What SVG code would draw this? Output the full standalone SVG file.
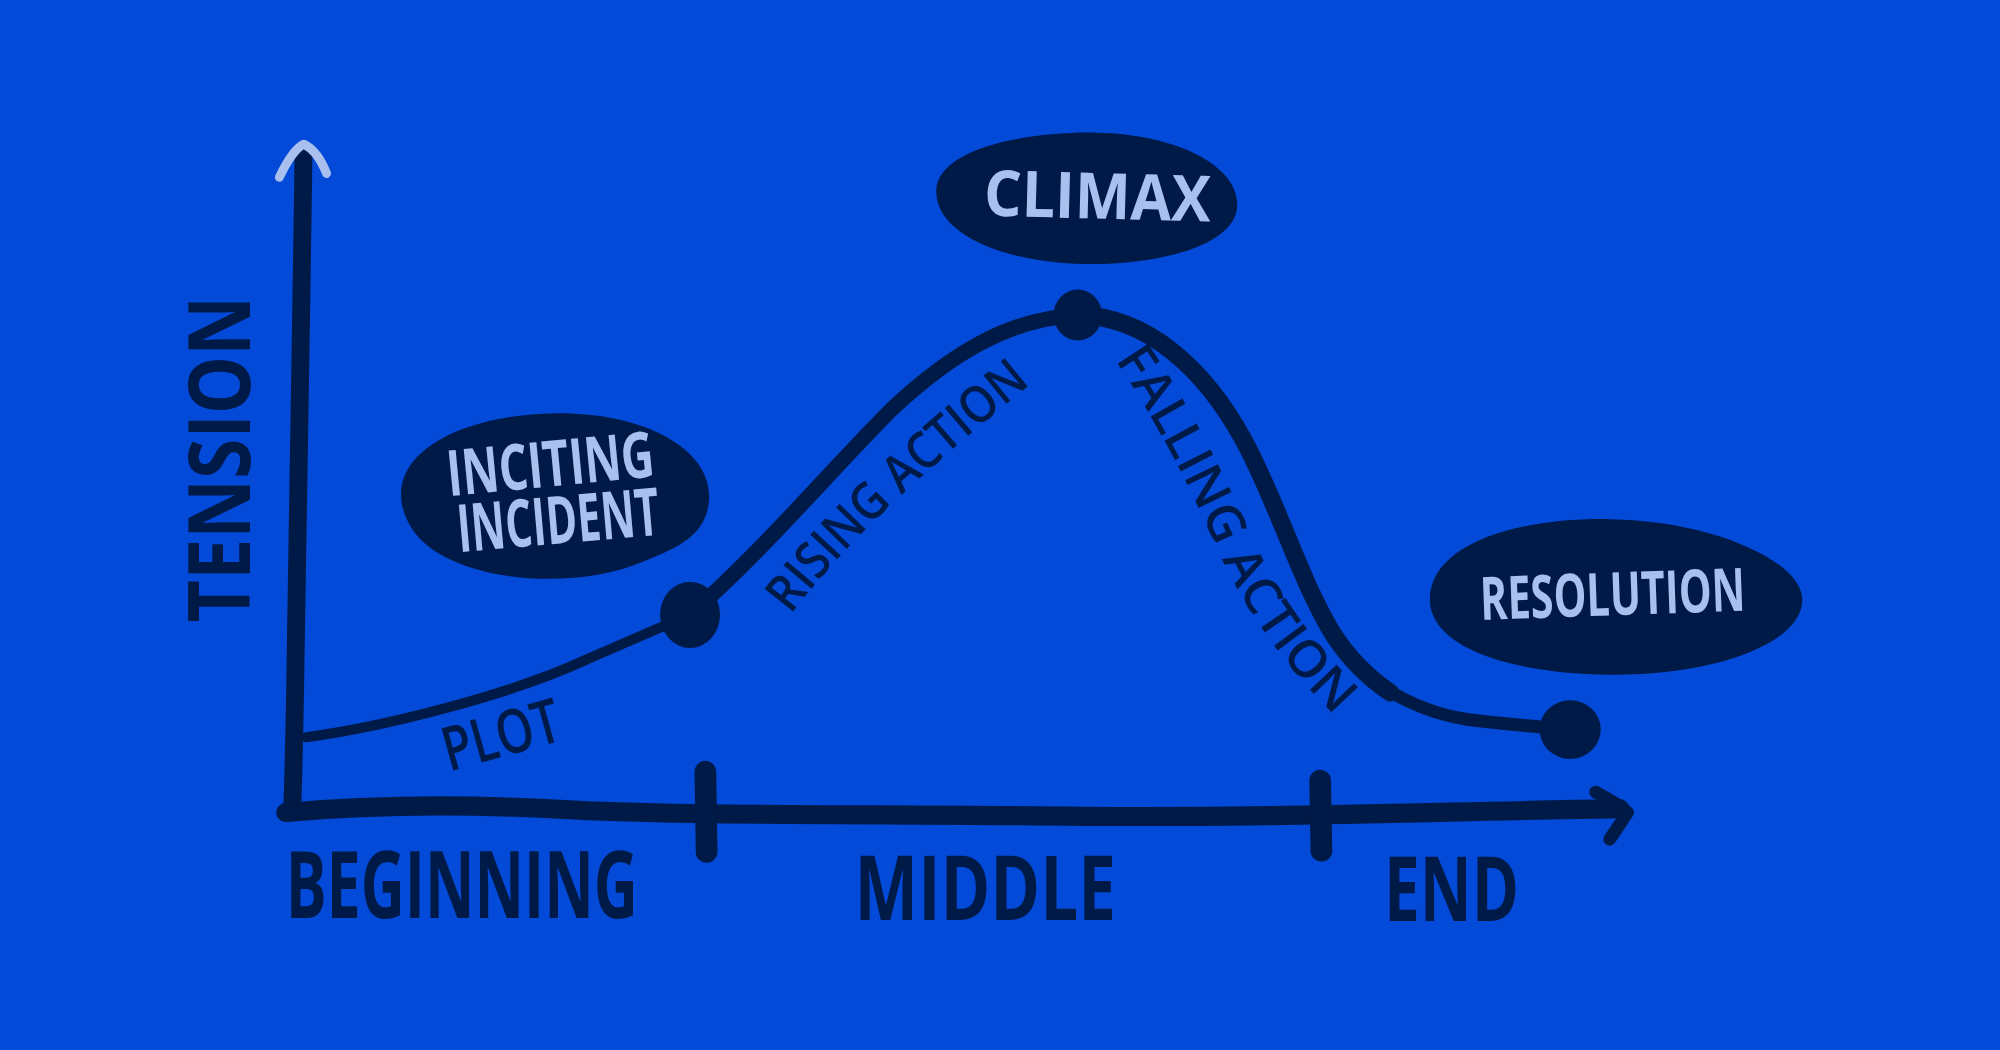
<svg xmlns="http://www.w3.org/2000/svg" width="2000" height="1050" viewBox="0 0 2000 1050">
  <style>
    .bg { fill: #034AD8; }
    .ink { fill: #001A47; }
    .line { fill: none; stroke: #001A47; stroke-linecap: round; stroke-linejoin: round; }
    .dark { fill: #001A47; font-family: "Open Sans", "Liberation Sans", sans-serif; font-weight: 700; }
    .darkthin { fill: #001A47; font-family: "Open Sans", "Liberation Sans", sans-serif; font-weight: 600; }
    .light { fill: #A9C0EF; font-family: "Open Sans", "Liberation Sans", sans-serif; font-weight: 700; }
    .arrowlight { fill: none; stroke: #A9C0EF; stroke-linecap: round; stroke-linejoin: round; }
  </style>
  <defs>
    <path id="risingBase" d="M620,482 C658,432 708,382 812,298"/>
    <path id="fallingBase" d="M874,282 C907,330 932,380 952,425 C972,470 1002,520 1060,574"/>
  </defs>
  <rect class="bg" x="0" y="0" width="2000" height="1050"/>
  <g transform="scale(1.2755)">
    <g id="axes">
      <path class="line" stroke-width="14" d="M238,118 C236,250 234,400 232,500 C231,570 230,610 229,637"/>
      <path class="arrowlight" stroke-width="7" d="M219,139 Q229,118 238,113 Q249,118 256,136"/>
      <path class="line" stroke-width="15" d="M224,637 C300,630 380,631 450,635 C550,640 700,638 850,640 C1000,641 1100,637 1270,634"/>
      <path class="line" stroke-width="10" d="M1251,621 C1262,627 1270,631 1276,637 C1271,645 1266,652 1262,658"/>
      <path class="line" stroke-width="17" d="M553,605 L554,668"/>
      <path class="line" stroke-width="17" d="M1035,612 L1036,667"/>
    </g>
    <g id="connectors">
      <path class="line" stroke-width="8" d="M240,578 C300,570 400,545 460,517 C490,504 515,493 541,482"/>
      <path class="line" stroke-width="12" d="M541,482 C600,430 650,370 700,320 C745,278 790,250 845,247"/>
      <path class="line" stroke-width="14" d="M845,247 C900,248 945,290 975,345 C1002,395 1018,452 1045,497 C1060,520 1075,533 1090,543"/>
      <path class="line" stroke-width="10" d="M1085,539 C1105,552 1125,560 1150,564 C1180,568 1210,570 1232,572"/>
    </g>
    <g id="node-plot-point">
      <ellipse class="ink" cx="541" cy="482" rx="23.5" ry="26"/>
    </g>
    <g id="node-climax-point">
      <ellipse class="ink" cx="845" cy="247" rx="19" ry="20"/>
    </g>
    <g id="node-resolution-point">
      <ellipse class="ink" cx="1231" cy="572" rx="24" ry="23"/>
    </g>
    <g id="node-inciting">
      <path class="ink" d="M315,395 C308,350 370,325 435,324 C505,323 557,352 556,390 C555,420 530,430 505,440 C470,455 420,458 380,448 C340,438 320,420 315,395 Z"/>
      <text class="light" font-size="50" textLength="163" lengthAdjust="spacingAndGlyphs" transform="translate(352,389) rotate(-5.5)">INCITING</text>
      <text class="light" font-size="52" textLength="159" lengthAdjust="spacingAndGlyphs" transform="translate(360,433) rotate(-5)">INCIDENT</text>
    </g>
    <g id="node-climax">
      <path class="ink" d="M734,150 C734,118 800,103 860,104 C922,105 972,130 970,162 C968,192 910,208 850,207 C790,206 734,185 734,150 Z"/>
      <text class="light" font-size="50" textLength="178" lengthAdjust="spacingAndGlyphs" transform="translate(771,169) rotate(1.5)">CLIMAX</text>
    </g>
    <g id="node-resolution">
      <path class="ink" d="M1121,470 C1121,430 1180,406 1262,407 C1342,408 1413,440 1413,470 C1413,506 1340,530 1262,529 C1180,528 1121,506 1121,470 Z"/>
      <text class="light" font-size="47" textLength="208" lengthAdjust="spacingAndGlyphs" transform="translate(1161,486) rotate(-2)">RESOLUTION</text>
    </g>
    <g id="labels">
      <text class="dark" font-size="68" text-anchor="middle" textLength="256" lengthAdjust="spacingAndGlyphs" transform="translate(196,360) rotate(-90)">TENSION</text>
      <text class="darkthin" font-size="48" textLength="94" lengthAdjust="spacingAndGlyphs" transform="translate(352,605) rotate(-15.5)">PLOT</text>
      <text class="darkthin" font-size="40"><textPath href="#risingBase" textLength="262" lengthAdjust="spacingAndGlyphs">RISING ACTION</textPath></text>
      <text class="darkthin" font-size="40"><textPath href="#fallingBase" textLength="330" lengthAdjust="spacingAndGlyphs">FALLING ACTION</textPath></text>
      <text class="dark" font-size="73" x="224" y="720" textLength="276" lengthAdjust="spacingAndGlyphs">BEGINNING</text>
      <text class="dark" font-size="71" x="670" y="721" textLength="205" lengthAdjust="spacingAndGlyphs">MIDDLE</text>
      <text class="dark" font-size="71" x="1085" y="722" textLength="106" lengthAdjust="spacingAndGlyphs">END</text>
    </g>
  </g>
</svg>
